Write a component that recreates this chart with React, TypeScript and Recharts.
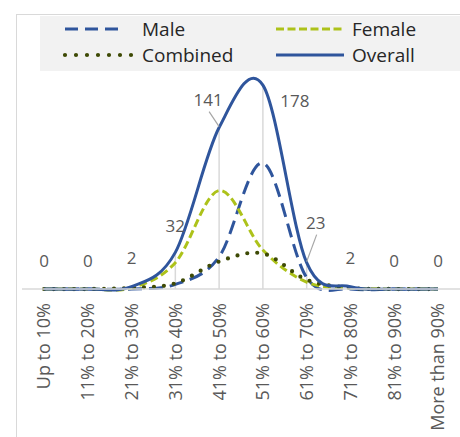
import React from "react";
import { LineChart, Line, XAxis, YAxis, ReferenceLine, LabelList } from "recharts";

const categories = [
  "Up to 10%", "11% to 20%", "21% to 30%", "31% to 40%", "41% to 50%",
  "51% to 60%", "61% to 70%", "71% to 80%", "81% to 90%", "More than 90%"
];
const male = [0, 0, 0, 4, 28, 110, 10, 0, 0, 0];
const female = [0, 0, 1, 23, 86, 34, 6, 1, 0, 0];
const combined = [0, 0, 1, 5, 24, 31, 8, 1, 0, 0];
const overall = [0, 0, 2, 32, 141, 178, 23, 2, 0, 0];

const data = categories.map((name, i) => ({
  name,
  Male: male[i],
  Female: female[i],
  Combined: combined[i],
  Overall: overall[i]
}));

const FONT = "'Open Sans', 'Noto Sans', sans-serif";
const BLUE = "#2f559c";
const LIME = "#adc21a";
const OLIVE = "#3e4a05";

// Excel-style smoothed line (Catmull-Rom through every point)
function excelCurve(context: any) {
  let pts: number[][] = [];
  return {
    areaStart() {},
    areaEnd() {},
    lineStart() { pts = []; },
    point(x: number, y: number) { pts.push([+x, +y]); },
    lineEnd() {
      const n = pts.length;
      if (!n) return;
      context.moveTo(pts[0][0], pts[0][1]);
      for (let i = 0; i < n - 1; i++) {
        const p0 = pts[Math.max(i - 1, 0)];
        const p1 = pts[i];
        const p2 = pts[i + 1];
        const p3 = pts[Math.min(i + 2, n - 1)];
        context.bezierCurveTo(
          p1[0] + (p2[0] - p0[0]) / 6, p1[1] + (p2[1] - p0[1]) / 6,
          p2[0] - (p3[0] - p1[0]) / 6, p2[1] - (p3[1] - p1[1]) / 6,
          p2[0], p2[1]
        );
      }
    }
  };
}

// label placement per point, relative to the point: [dx, dy, leader]
const labelPos: [number, number, boolean][] = [
  [0, -29, false], [0, -29, false], [0, -29, false], [0, -27, false], [-11, -28, true],
  [32, 15, false], [9, -40, true], [0, -29, false], [0, -29, false], [0, -29, false]
];

function OverallLabel(props: any) {
  const { x, y, value, index } = props;
  const [dx, dy, leader] = labelPos[index] || [0, -29, false];
  const lx = x + dx;
  const ly = y + dy;
  return (
    <g>
      {leader && (
        <line x1={lx + 1} y1={ly + 12} x2={x} y2={y - 1} stroke="#a6a6a6" strokeWidth={1.2} />
      )}
      <text x={lx} y={ly} textAnchor="middle" dominantBaseline="central" fill="#595959" fontSize={17} fontFamily={FONT}>
        {value}
      </text>
    </g>
  );
}

function AxisTick(props: any) {
  const { x, y, payload } = props;
  return (
    <text
      x={x}
      y={y}
      transform={`rotate(-90 ${x} ${y})`}
      textAnchor="end"
      dy="0.36em"
      fill="#595959"
      fontSize={18}
      fontFamily={FONT}
    >
      {payload.value}
    </text>
  );
}

const legendItems = [
  { name: "Male", color: BLUE, dash: "13 7", width: 3, cap: "butt", col: 0, row: 0, len: 60 },
  { name: "Female", color: LIME, dash: "8 3.5", width: 3, cap: "butt", col: 1, row: 0, len: 68 },
  { name: "Combined", color: OLIVE, dash: "0 11", width: 4.2, cap: "round", col: 0, row: 1, len: 68 },
  { name: "Overall", color: BLUE, dash: undefined, width: 3, cap: "butt", col: 1, row: 1, len: 68 }
];

function LegendBox() {
  return (
    <div
      style={{
        position: "absolute",
        left: 40,
        top: 16,
        width: 420,
        height: 55,
        background: "#f2f2f2",
        fontFamily: FONT
      }}
    >
      {legendItems.map((it) => (
        <div key={it.name}>
          <svg
            style={{ position: "absolute", left: 23 + it.col * 211, top: 6 + it.row * 26, overflow: "visible" }}
            width={it.len + 4}
            height={14}
          >
            <line
              x1={2}
              y1={7}
              x2={it.len + 2}
              y2={7}
              stroke={it.color}
              strokeWidth={it.width}
              strokeDasharray={it.dash}
              strokeLinecap={it.cap as any}
            />
          </svg>
          <span
            style={{
              position: "absolute",
              left: 102 + it.col * 210,
              top: it.row * 26,
              fontSize: 19,
              lineHeight: "26px",
              color: "#262626",
              whiteSpace: "nowrap"
            }}
          >
            {it.name}
          </span>
        </div>
      ))}
    </div>
  );
}

export default function App() {
  return (
    <div style={{ position: "absolute", left: 0, top: 0, width: 460, height: 437, overflow: "hidden", background: "#fff" }}>
      <div
        style={{
          position: "absolute",
          left: 16,
          top: 14,
          width: 600,
          height: 600,
          border: "1.5px solid #d9d9d9"
        }}
      />
      <LegendBox />
      <div style={{ position: "absolute", left: 0, top: 0 }}>
        <LineChart width={460} height={437} data={data} margin={{ top: 60, right: 0, left: 22, bottom: 0 }}>
          <XAxis
            dataKey="name"
            height={148}
            padding={{ left: 22, right: 22 }}
            axisLine={{ stroke: "#d9d9d9", strokeWidth: 1.5 }}
            tickLine={false}
            tickSize={0}
            tickMargin={14}
            interval={0}
            tick={<AxisTick />}
          />
          <YAxis hide domain={[0, 200]} />
          {categories.map((c, i) => (
            <ReferenceLine
              key={c}
              segment={[{ x: c, y: 0 }, { x: c, y: overall[i] }]}
              stroke="#d9d9d9"
              strokeWidth={1.5}
            />
          ))}
          <Line
            dataKey="Male"
            type={excelCurve as any}
            stroke={BLUE}
            strokeWidth={3}
            strokeDasharray="14 7"
            dot={false}
            activeDot={false}
            isAnimationActive={false}
          />
          <Line
            dataKey="Female"
            type={excelCurve as any}
            stroke={LIME}
            strokeWidth={3}
            strokeDasharray="8 4"
            dot={false}
            activeDot={false}
            isAnimationActive={false}
          />
          <Line
            dataKey="Combined"
            type={excelCurve as any}
            stroke={OLIVE}
            strokeWidth={4.2}
            strokeDasharray="0 10"
            strokeLinecap="round"
            dot={false}
            activeDot={false}
            isAnimationActive={false}
          />
          <Line
            dataKey="Overall"
            type={excelCurve as any}
            stroke={BLUE}
            strokeWidth={3}
            dot={false}
            activeDot={false}
            isAnimationActive={false}
          >
            <LabelList dataKey="Overall" content={<OverallLabel />} />
          </Line>
        </LineChart>
      </div>
    </div>
  );
}
